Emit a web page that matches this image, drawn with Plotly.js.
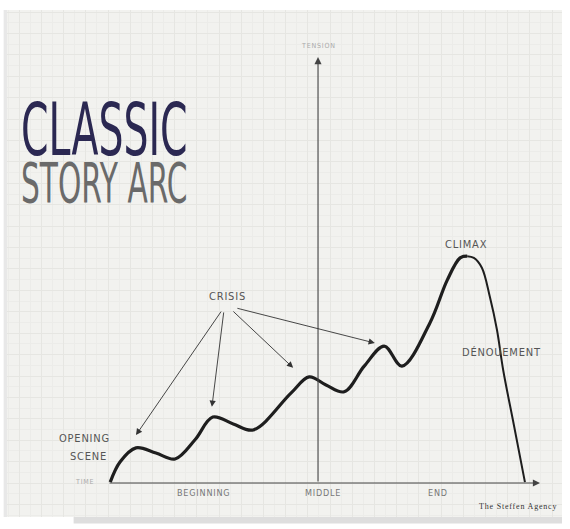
<!DOCTYPE html>
<html>
<head>
<meta charset="utf-8">
<script src="https://cdn.plot.ly/plotly-3.0.1.min.js"></script>
<style>
  html, body { margin: 0; padding: 0; background: #ffffff; }
  #chart { width: 570px; height: 529px; }
  .annotation-text { letter-spacing: 0.8px; }
</style>
</head>
<body>
<div id="chart"></div>
<script>
// Story arc: time (0-100) vs tension (0-100)
const riseTime    = [0.5, 2.7, 6.3, 10.8, 15.1, 19.6, 23.6, 28.2, 32.7, 41.2, 45.3, 49.1, 53.2, 57.7, 62.2, 66.2, 72.5, 76.4, 79.3, 80.9];
const riseTension = [0.2, 4.9, 8.2, 7.0, 5.6, 10.1, 15.4, 13.8, 12.4, 21.0, 24.8, 22.9, 21.3, 27.3, 32.0, 27.3, 37.4, 47.4, 52.6, 53.0];
const fallTime    = [80.9, 82.4, 84.2, 86.0, 87.6, 89.0, 91.4, 93.9];
const fallTension = [53.0, 52.6, 50.3, 43.5, 35.8, 26.4, 13.6, 0.2];

// Crisis arrows: tail (from label) -> head (on curve)
const crisisTailT = [25.7, 26.1, 27.9, 28.8];
const crisisTailY = [40.4, 40.2, 40.4, 40.9];
const crisisHeadT = [6.3, 23.4, 41.7, 60.1];
const crisisHeadY = [11.2, 17.8, 26.9, 32.7];

// Act tick labels on the time axis
const actLabels = ["BEGINNING", "MIDDLE", "END"];
const actTimes  = [21.6, 48.4, 74.3];

const axisEndTime = 97.3;
const axisTopTension = 99.5;
const middleTime = 47.3;

const titleLine1 = "CLASSIC";
const titleLine2 = "STORY ARC";

const labelFont = {family: "Liberation Sans Narrow, DejaVu Sans Condensed, sans-serif", size: 11, color: "#555555"};
const smallFont = {family: "Liberation Sans Narrow, DejaVu Sans Condensed, sans-serif", size: 9, color: "#777777"};

const traces = [
  {x: riseTime, y: riseTension, mode: "lines", line: {shape: "spline", smoothing: 1, color: "#1e1e1e", width: 3.2}, hoverinfo: "skip"},
  {x: fallTime, y: fallTension, mode: "lines", line: {shape: "spline", smoothing: 1, color: "#1e1e1e", width: 2}, hoverinfo: "skip"}
];

const annotations = [];
// axes with arrows
annotations.push({x: axisEndTime, y: 0, ax: 0, ay: 0, xref: "x", yref: "y", axref: "x", ayref: "y", text: "", showarrow: true, arrowhead: 2, arrowsize: 1.3, arrowwidth: 1.1, arrowcolor: "#444444"});
annotations.push({x: middleTime, y: axisTopTension, ax: middleTime, ay: 0, xref: "x", yref: "y", axref: "x", ayref: "y", text: "", showarrow: true, arrowhead: 2, arrowsize: 1.3, arrowwidth: 1.1, arrowcolor: "#444444"});
// crisis arrows
for (let i = 0; i < crisisHeadT.length; i++) {
  annotations.push({x: crisisHeadT[i], y: crisisHeadY[i], ax: crisisTailT[i], ay: crisisTailY[i], xref: "x", yref: "y", axref: "x", ayref: "y", text: "", showarrow: true, arrowhead: 2, arrowsize: 1.4, arrowwidth: 0.9, arrowcolor: "#333333"});
}
// labels
annotations.push({x: 27.0, y: 43.5, xref: "x", yref: "y", text: "CRISIS", showarrow: false, font: labelFont});
annotations.push({x: 80.6, y: 55.7, xref: "x", yref: "y", text: "CLIMAX", showarrow: false, font: labelFont});
annotations.push({x: 88.6, y: 30.6, xref: "x", yref: "y", text: "DÉNOUEMENT", showarrow: false, font: labelFont});
annotations.push({x: 0.8, y: 10.3, xref: "x", yref: "y", text: "OPENING", showarrow: false, xanchor: "right", font: labelFont});
annotations.push({x: 0.2, y: 6.1, xref: "x", yref: "y", text: "SCENE", showarrow: false, xanchor: "right", font: labelFont});
for (let i = 0; i < actLabels.length; i++) {
  annotations.push({x: actTimes[i], y: -2.4, xref: "x", yref: "y", text: actLabels[i], showarrow: false, font: smallFont});
}
annotations.push({x: -5.2, y: 0.2, xref: "x", yref: "y", text: "TIME", showarrow: false, font: {family: smallFont.family, size: 7, color: "#aaaaaa"}});
annotations.push({x: middleTime, y: 102.0, xref: "x", yref: "y", text: "TENSION", showarrow: false, font: {family: smallFont.family, size: 7, color: "#aaaaaa"}});
annotations.push({x: 92.3, y: -5.6, xref: "x", yref: "y", text: "The Steffen Agency", showarrow: false, font: {family: "Liberation Serif, serif", size: 8, color: "#333333"}});
// title (two lines in one text)
annotations.push({
  x: 0.022, y: 0.852, xref: "paper", yref: "paper", xanchor: "left", yanchor: "top", align: "left", showarrow: false,
  text: "<span style='font-size:73px;color:#2b2852'>" + titleLine1 + "</span><br><span style='font-size:55px;color:#6a6a6a'>" + titleLine2 + "</span>",
  font: {family: "Liberation Sans Narrow, DejaVu Sans Condensed, sans-serif", size: 36, color: "#2b2852"}
});

const layout = {
  width: 570, height: 529,
  margin: {l: 7, r: 8, t: 10, b: 12, pad: 0},
  paper_bgcolor: "#ffffff",
  plot_bgcolor: "#f2f2ef",
  showlegend: false,
  xaxis: {range: [-22.75, 102.25], showticklabels: false, ticks: "", zeroline: false, showline: false,
          showgrid: true, tick0: 0, dtick: 5, gridcolor: "#e6e6e2", gridwidth: 1,
          minor: {showgrid: true, dtick: 2.5, gridcolor: "#ecece9", gridwidth: 1}, fixedrange: true},
  yaxis: {range: [-7.94, 110.5], showticklabels: false, ticks: "", zeroline: false, showline: false,
          showgrid: true, tick0: 0, dtick: 5, gridcolor: "#e6e6e2", gridwidth: 1,
          minor: {showgrid: true, dtick: 2.5, gridcolor: "#ecece9", gridwidth: 1}, fixedrange: true},
  shapes: [
    {type: "rect", xref: "paper", yref: "paper", x0: 0.12, x1: 1.0, y0: -0.013, y1: 0, fillcolor: "#dedede", line: {width: 0}},
    {type: "rect", xref: "paper", yref: "paper", x0: -0.006, x1: 0, y0: 0, y1: 1, fillcolor: "#e8e8e8", line: {width: 0}}
  ],
  annotations: annotations
};

Plotly.newPlot("chart", traces, layout, {displayModeBar: false, staticPlot: true}).then(function () {
  document.querySelectorAll("text.annotation-text").forEach(function (el) {
    const t = el.textContent;
    if (t.indexOf(titleLine1) === 0) {
      el.style.letterSpacing = "0px";
      el.style.transformBox = "fill-box";
      el.style.transformOrigin = "left center";
      el.style.transform = "scaleX(0.6)";
    }
  });
});
</script>
</body>
</html>
